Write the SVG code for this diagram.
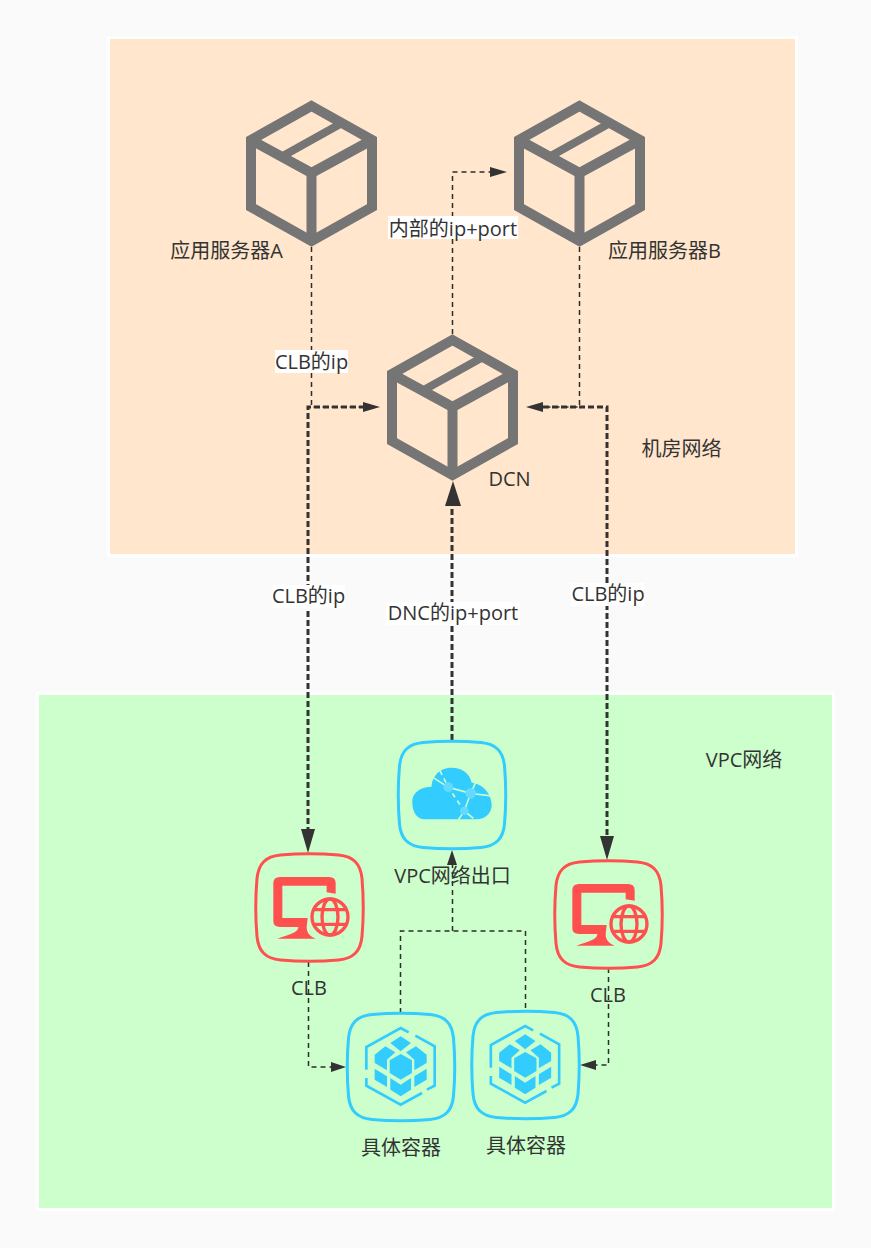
<svg xmlns="http://www.w3.org/2000/svg" width="871" height="1248" viewBox="0 0 871 1248">
<style>
text{font-family:"Open Sans","Noto Sans CJK SC",sans-serif;font-size:20px;fill:#333;text-anchor:middle}
.thin{fill:none;stroke:#2d2d2d;stroke-width:1.500;stroke-dasharray:5 4}
.thick{fill:none;stroke:#333;stroke-width:3;stroke-dasharray:6 3}
.head{fill:#333}
.sq{fill:none;stroke-width:3}
.lbl{fill:#fff}
</style>
<defs>
<symbol id="box" overflow="visible">
<g fill="none" stroke="#757575" stroke-linejoin="miter">
<path stroke-width="10" d="M65.500 6L126 40V107L65.500 141L5 107V40Z"/>
<path stroke-width="10" d="M5 40L65.500 73L126 40M65.500 73V141"/>
<path stroke-width="8" d="M35 57L96 23"/>
</g>
</symbol>
<path id="squircle" d="M25 1.500Q54 -1 83 1.500C98 3 105 10 106.500 25Q109 54 106.500 83C105 98 98 105 83 106.500Q54 109 25 106.500C10 105 3 98 1.500 83Q-1 54 1.500 25C3 10 10 3 25 1.500Z"/>
<symbol id="cube" overflow="visible">
<g transform="scale(.3333) translate(-20 -40)">
<g fill="none" stroke="#33ccff" stroke-width="8">
<path d="M78 210V142L181 85L205 98"/>
<path d="M225 108L283 140V258L260 270"/>
<path d="M245 280L181 315L78 258V235"/>
</g>
<g fill="#33ccff">
<path d="M181 163L215 182V220L181 240L148 220V182Z"/>
<path d="M181 110L212 130L181 155L150 130Z"/>
<path d="M103 165L135 140L165 158L140 180V212L103 190Z"/>
<path d="M259 165L227 140L197 158L222 180V212L259 190Z"/>
<path d="M103 207L140 230V262L103 240Z"/>
<path d="M259 207L222 230V262L259 240Z"/>
<path d="M150 235L181 255L212 235V270L181 290L150 270Z"/>
</g>
</g>
</symbol>
<symbol id="clb" overflow="visible">
<g transform="scale(.3333) translate(-30 -40)">
<path fill="#ff5050" d="M272 162V130Q272 112 252 112H105Q85 112 85 130V245Q85 262 105 262H160C160 280 130 285 97 297H212C195 290 185 280 185 262L188 235H112V138H245V158Z"/>
<circle cx="255" cy="232" r="62" fill="#ccffcc"/>
<g fill="none" stroke="#ff5050" stroke-width="10">
<circle cx="255" cy="232" r="54"/>
<ellipse cx="255" cy="232" rx="24" ry="54"/>
<path d="M206 210H304M206 254H304"/>
</g>
</g>
</symbol>
</defs>
<rect width="871" height="1248" fill="#fafafa"/>
<g id="room-zone"><rect x="108.500" y="37.500" width="688" height="518" fill="#ffe6cc" stroke="#fff" stroke-width="3"/></g>
<g id="vpc-zone"><rect x="37.500" y="693.500" width="796" height="516" fill="#ccffcc" stroke="#fff" stroke-width="3"/></g>
<g id="connectors">
<path class="thin" d="M311.500 247V407H365"/>
<path class="thick" d="M365 407H308V832"/>
<path class="head" d="M380 407L363 402V412Z"/>
<path class="head" d="M308 853L301 829H315Z"/>
<path class="thin" d="M579.500 247V407H543"/>
<path class="thick" d="M543 407H607V838"/>
<path class="head" d="M526 407L543 402V412Z"/>
<path class="head" d="M607 860L600 836H614Z"/>
<path class="thin" d="M452.500 334V172H491"/>
<path class="head" d="M507 172L490 167V177Z"/>
<path class="thick" d="M452 740V505"/>
<path class="head" d="M453 481L445 506H461Z"/>
<path class="thin" d="M308.500 962V1067H332"/>
<path class="head" d="M346 1067L331 1062V1072Z"/>
<path class="thin" d="M608.500 968V1065H595"/>
<path class="head" d="M580 1065L596 1060V1070Z"/>
<path class="thin" d="M400.500 1013V931H525.500V1011M452.500 931V864"/>
<path class="head" d="M452 850L447 865H457Z"/>
</g>
<g id="label-clb-a"><rect class="lbl" x="275" y="350" width="73" height="23"/><text x="311.500" y="369">CLB的ip</text></g>
<g id="label-inner"><rect class="lbl" x="388" y="216" width="130" height="23"/><text x="453" y="236">内部的ip+port</text></g>
<g id="label-clb-left"><rect class="lbl" x="272" y="585" width="73" height="23"/><text x="308.500" y="603">CLB的ip</text></g>
<g id="label-dnc"><rect class="lbl" x="386" y="602" width="134" height="23"/><text x="453" y="620">DNC的ip+port</text></g>
<g id="label-clb-right"><rect class="lbl" x="571" y="583" width="73" height="23"/><text x="608" y="601">CLB的ip</text></g>
<g id="server-a"><use href="#box" x="246" y="100"/><text x="226.500" y="258">应用服务器A</text></g>
<g id="server-b"><use href="#box" x="514" y="100"/><text x="664.500" y="258">应用服务器B</text></g>
<g id="dcn"><use href="#box" x="387" y="334"/><text x="509.500" y="486">DCN</text></g>
<g id="room-label"><text x="681.500" y="456">机房网络</text></g>
<g id="vpc-label"><text x="744" y="767">VPC网络</text></g>
<g id="vpc-exit">
<use href="#squircle" x="398" y="741" class="sq" stroke="#33ccff"/>
<g transform="translate(380 730) scale(.3333)">
<path fill="#33ccff" d="M130 268C105 265 95 235 97 210C100 185 125 170 155 170C155 140 180 112 215 113C245 113 270 130 275 158C305 160 335 190 335 225C335 250 315 268 290 268Z"/>
<g fill="none" stroke="#ccffcc" stroke-width="5">
<path d="M155 140L205 172L272 190L335 198M272 190L253 243L235 270M272 190L288 155M253 243L280 265"/>
<path stroke-dasharray="14 12" d="M180 122L205 172L253 243"/>
</g>
<g fill="#66d9ff"><circle cx="205" cy="172" r="15"/><circle cx="272" cy="190" r="16"/><circle cx="253" cy="243" r="13"/></g>
</g>
<text x="452.500" y="883">VPC网络出口</text>
</g>
<g id="clb-a"><use href="#squircle" x="255.500" y="853.500" class="sq" stroke="#ff5050"/><use href="#clb" x="255" y="853"/><text x="309" y="995">CLB</text></g>
<g id="clb-b"><use href="#squircle" x="554.500" y="860.500" class="sq" stroke="#ff5050"/><use href="#clb" x="554" y="860"/><text x="608" y="1002">CLB</text></g>
<g id="container-a"><use href="#squircle" x="347" y="1013" class="sq" stroke="#33ccff"/><use href="#cube" x="347" y="1013"/><text x="401" y="1155">具体容器</text></g>
<g id="container-b"><use href="#squircle" x="471.500" y="1011" class="sq" stroke="#33ccff"/><use href="#cube" x="471.500" y="1011"/><text x="526" y="1153">具体容器</text></g>
</svg>
